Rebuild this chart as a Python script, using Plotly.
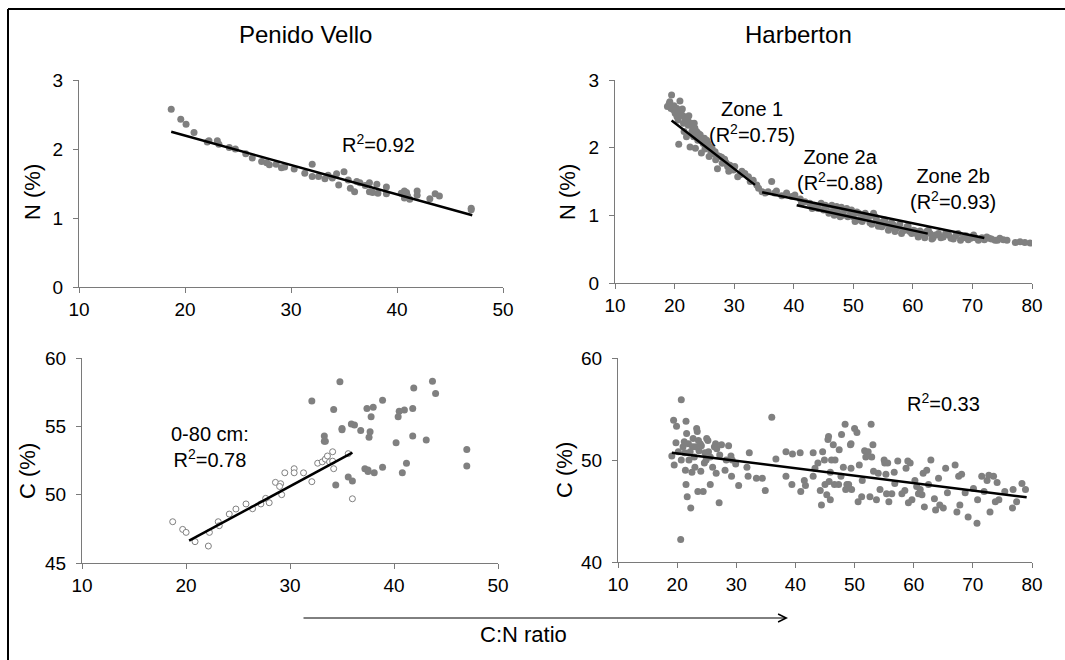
import plotly.graph_objects as go

W, H = 1065, 660

# ---------------- DATA ----------------
# Penido Vello: N (%) vs C:N ratio
pv_n_cn = [18.7, 19.6, 20.1, 20.85, 22.26, 22.1, 23.05, 23.2, 24.18, 24.75, 25.73, 26.35, 27.23, 27.7,
           27.96, 28.6, 29.1, 29.4, 30.3, 31.3, 32.0, 32.0, 32.6, 33.2, 33.5, 33.9, 34.3, 34.5, 35.0,
           35.4, 35.6, 36.0, 36.2, 36.5, 37.0, 37.4, 37.4, 37.7, 38.1, 38.2, 39.0, 39.0, 40.4, 40.7,
           40.7, 41.0, 40.9, 41.2, 41.9, 41.9, 43.1, 43.6, 44.0, 47.0, 47.0]
pv_n = [2.575, 2.43, 2.36, 2.24, 2.12, 2.10, 2.12, 2.07, 2.02, 2.00, 1.93, 1.87, 1.82, 1.80,
        1.77, 1.78, 1.73, 1.74, 1.71, 1.65, 1.78, 1.60, 1.60, 1.57, 1.62, 1.58, 1.64, 1.48, 1.67,
        1.55, 1.43, 1.38, 1.53, 1.51, 1.47, 1.51, 1.38, 1.37, 1.49, 1.36, 1.45, 1.35, 1.36, 1.39,
        1.29, 1.32, 1.37, 1.27, 1.39, 1.33, 1.28, 1.35, 1.32, 1.14, 1.12]
pv_n_fit_cn = [18.7, 47.1]
pv_n_fit = [2.25, 1.04]

# Penido Vello: C (%) vs C:N ratio, 0-80 cm (open) and deeper (filled)
pv_c_top_cn = [18.72, 19.68, 20.01, 20.87, 22.15, 22.25, 23.1, 23.2, 24.16, 24.8, 25.77, 26.4, 27.2,
               27.66, 28.0, 28.6, 29.1, 29.2, 29.0, 29.5, 30.4, 30.4, 31.3, 32.1, 32.66, 33.1, 33.4,
               33.6, 33.8, 34.1, 34.1, 34.2, 35.6, 36.0]
pv_c_top = [48.02, 47.46, 47.24, 46.56, 46.24, 47.24, 48.02, 47.73, 48.58, 48.95, 49.32, 48.97, 49.32,
            49.73, 49.41, 50.9, 50.8, 50.0, 50.6, 51.6, 51.9, 51.6, 51.6, 50.95, 52.3, 52.4, 52.6,
            52.83, 52.4, 53.14, 52.45, 51.9, 53.0, 49.7]
pv_c_deep_cn = [32.1, 33.3, 33.3, 33.4, 34.2, 34.4, 34.8, 35.0, 35.0, 35.6, 35.9, 36.0, 36.2, 36.8,
                37.4, 37.2, 37.5, 37.5, 37.6, 37.7, 37.8, 38.0, 38.1, 38.9, 38.9, 40.2, 40.4, 40.5,
                40.8, 41.0, 41.2, 41.8, 41.8, 41.9, 43.1, 43.7, 44.0, 47.0, 47.0]
pv_c_deep = [56.85, 54.3, 53.9, 53.9, 56.24, 50.7, 58.26, 54.85, 54.75, 51.3, 55.17, 51.0, 55.1, 54.7,
             56.3, 51.9, 51.8, 51.7, 54.2, 54.6, 55.7, 56.4, 51.6, 56.9, 52.0, 53.8, 55.7, 56.1,
             51.6, 56.2, 52.3, 54.3, 56.3, 57.8, 54.0, 58.3, 57.4, 53.3, 52.1]
pv_c_fit_cn = [20.3, 36.0]
pv_c_fit = [46.63, 53.07]

# Harberton: N (%) vs C:N ratio
hb_n_cn = [19.5, 19.1, 19.4, 19.8, 20.1, 20.4, 20.9, 20.6, 20.7, 21.2, 21.5, 21.6, 21.8, 22.0, 22.3,
           22.6, 22.9, 23.2, 23.4, 23.5, 23.9, 24.0, 24.5, 24.8, 25.1, 25.4, 25.8, 26.1, 26.5, 26.9,
           27.2, 27.6, 28.0, 28.5, 28.9, 29.1, 29.9, 30.6, 31.0, 32.4, 32.7, 33.8, 34.7, 35.2, 36.3,
           37.1, 38.0, 38.8, 39.7, 40.2, 41.1, 41.9, 42.7, 43.5, 44.1, 44.6, 45.0, 45.5, 46.1, 46.4,
           46.9, 47.5, 48.0, 48.5, 48.9, 49.5, 50.0, 50.6, 51.1, 51.7, 52.2, 52.8, 53.4, 53.9, 54.5,
           55.0, 55.6, 56.2, 56.7, 57.3, 57.8, 58.4, 59.0, 59.5, 60.1, 60.6, 61.2, 61.8, 62.3, 62.9,
           63.4, 64.3, 65.1, 66.0, 66.8, 67.6, 68.5, 69.3, 70.2, 71.0, 71.6, 72.4, 73.2, 73.8, 74.6,
           75.8, 77.2, 78.0, 78.8, 79.7,
           41.3, 43.1, 45.3, 45.9, 46.8, 47.2, 47.8, 48.3, 49.1, 49.7, 50.3, 50.9, 51.5, 52.0, 52.6,
           53.1, 53.7, 54.2, 54.8, 55.3, 55.9, 56.4, 57.0, 57.6, 58.1, 58.7, 59.2, 59.8, 60.4, 60.9,
           61.5, 62.0, 62.6, 63.2, 63.8, 64.7, 65.5, 66.4, 67.2, 68.0, 68.9, 69.7, 70.5, 72.0, 72.8,
           74.2, 75.2,
           18.8, 19.2, 19.9, 20.4, 21.1, 21.3, 21.6, 22.2, 22.4, 22.8, 23.0, 23.3, 23.7, 24.3, 24.4,
           25.0, 25.6, 26.0, 26.3, 26.8, 27.3, 27.9, 28.4, 28.7, 29.3, 30.1, 31.3, 31.8, 33.2, 34.1,
           35.7, 36.8]
hb_n = [2.78, 2.65, 2.58, 2.56, 2.51, 2.46, 2.69, 2.41, 2.05, 2.48, 2.36, 2.24, 2.43, 2.16, 2.33,
        2.01, 2.24, 2.16, 2.29, 1.99, 2.11, 2.21, 1.92, 2.06, 1.98, 2.11, 1.87, 1.94, 1.91, 1.82,
        1.69, 1.87, 1.77, 1.79, 1.72, 1.65, 1.67, 1.57, 1.60, 1.57, 1.50, 1.45, 1.35, 1.33, 1.50,
        1.36, 1.29, 1.33, 1.28, 1.30, 1.24, 1.20, 1.18, 1.15, 1.10, 1.18, 1.08, 1.13, 1.05, 1.15,
        1.09, 1.03, 1.12, 1.08, 1.10, 1.02, 0.98, 1.05, 0.93, 1.00, 0.96, 0.89, 1.03, 0.93, 0.88,
        0.91, 0.87, 0.82, 0.86, 0.81, 0.87, 0.78, 0.83, 0.76, 0.78, 0.73, 0.77, 0.71, 0.76, 0.73,
        0.67, 0.73, 0.68, 0.71, 0.65, 0.73, 0.67, 0.64, 0.71, 0.63, 0.67, 0.68, 0.65, 0.63, 0.66,
        0.63, 0.60, 0.61, 0.60, 0.59,
        1.18, 1.10, 1.15, 1.03, 1.00, 1.13, 0.98, 1.00, 0.98, 1.08, 0.91, 1.03, 0.91, 1.03, 0.98,
        0.87, 0.98, 0.84, 0.83, 0.93, 0.78, 0.89, 0.76, 0.83, 0.73, 0.78, 0.84, 0.73, 0.77, 0.68,
        0.73, 0.67, 0.78, 0.65, 0.71, 0.67, 0.73, 0.66, 0.70, 0.63, 0.70, 0.66, 0.67, 0.64, 0.66,
        0.63, 0.64,
        2.61, 2.68, 2.62, 2.58, 2.53, 2.57, 2.46, 2.41, 2.47, 2.36, 2.31, 2.36, 2.24, 2.19, 2.11,
        2.14, 2.06, 2.01, 1.99, 1.94, 1.88, 1.86, 1.83, 1.77, 1.74, 1.72, 1.65, 1.62, 1.52, 1.40,
        1.35, 1.33]
hb_zone1_cn = [19.5, 33.5]
hb_zone1 = [2.40, 1.45]
hb_zone2b_cn = [34.7, 72.0]
hb_zone2b = [1.34, 0.665]
hb_zone2a_cn = [40.5, 62.5]
hb_zone2a = [1.15, 0.73]

# Harberton: C (%) vs C:N ratio
hb_c_cn = [19.1, 19.4, 19.9, 19.5, 19.8, 20.2, 20.7, 20.6, 20.7, 21.0, 21.2, 21.3, 21.4, 21.5, 21.6,
           21.5, 21.7, 21.9, 22.0, 22.2, 22.3, 22.5, 22.6, 22.7, 22.9, 23.0, 23.1, 23.3, 23.4, 23.5,
           23.6, 23.7, 23.9, 24.0, 24.1, 24.4, 24.6, 24.7, 24.9, 25.0, 25.2, 25.3, 25.6, 25.6, 26.0,
           26.3, 26.5, 26.6, 26.7, 27.1, 27.2, 27.5, 28.1, 28.3, 28.7, 29.1, 29.2, 29.3, 29.9, 30.4,
           31.8, 32.2, 32.0, 33.4, 34.4, 34.9, 36.0, 36.7, 38.4, 38.4, 39.4, 39.5, 40.8, 40.9, 41.5,
           41.7, 43.0, 43.0, 43.3, 43.8, 44.2, 44.4, 44.6, 44.9, 45.0, 45.3, 45.5, 45.6, 45.7, 45.9,
           45.9, 46.1, 46.4, 46.6, 46.7, 47.3, 47.4, 47.7, 47.8, 48.1, 48.4, 48.5, 48.7, 49.0, 49.3,
           49.4, 49.4, 49.5, 50.0, 50.4, 50.6, 50.8, 51.2, 51.3, 51.7, 51.9, 52.3, 52.6, 52.8, 52.9,
           53.1, 53.2, 53.7, 54.0, 54.3, 55.0, 55.1, 55.3, 55.4, 55.6, 55.8, 56.3, 56.7, 56.8, 57.3,
           58.0, 58.5, 58.7, 59.0, 59.1, 59.4, 59.7, 60.2, 60.5, 60.8, 61.1, 61.4, 61.6, 61.8, 62.2,
           62.5, 62.9, 63.5, 63.7, 64.2, 64.4, 65.0, 65.4, 65.7, 67.0, 67.3, 67.6, 67.8, 68.1, 68.7,
           69.2, 70.1, 70.7, 70.8, 71.5, 71.9, 72.4, 72.7, 72.9, 73.5, 73.8, 74.1, 74.4, 75.4, 76.7,
           76.8, 77.4, 78.3, 78.9]
hb_c = [50.4, 53.9, 53.3, 49.5, 51.7, 50.8, 55.9, 42.2, 50.0, 51.3, 51.8, 50.7, 49.0, 53.8, 52.6,
        47.6, 46.4, 51.6, 50.0, 50.8, 45.3, 48.8, 51.3, 52.1, 50.3, 49.3, 51.3, 53.1, 52.8, 46.9,
        51.9, 50.9, 51.6, 48.9, 51.4, 46.9, 49.7, 50.7, 50.0, 52.1, 51.9, 50.8, 47.6, 50.3, 49.3,
        51.3, 51.6, 48.7, 51.1, 45.8, 50.5, 51.5, 49.0, 50.0, 51.4, 50.4, 48.4, 50.0, 49.6, 47.5,
        49.3, 50.7, 48.4, 48.2, 48.2, 47.0, 54.2, 50.1, 50.8, 48.4, 47.6, 50.6, 50.7, 46.9, 48.0,
        47.5, 50.7, 48.4, 49.2, 49.7, 47.0, 45.6, 50.8, 50.0, 47.6, 46.6, 52.0, 52.3, 47.9, 48.8,
        46.1, 50.0, 51.5, 47.6, 50.0, 47.6, 51.0, 48.4, 52.5, 49.3, 53.5, 47.1, 47.6, 47.6, 51.5,
        51.6, 49.2, 47.1, 53.1, 52.7, 45.9, 49.5, 46.4, 48.0, 50.9, 50.3, 50.8, 46.4, 53.5, 50.3,
        51.5, 48.9, 46.1, 48.7, 47.1, 50.0, 49.7, 48.6, 46.7, 49.7, 45.9, 46.7, 48.8, 47.7, 49.9,
        46.7, 47.0, 49.2, 49.9, 45.8, 49.7, 46.1, 48.0, 47.4, 46.7, 47.1, 46.6, 48.7, 45.4, 49.0,
        47.6, 50.0, 46.2, 45.1, 48.2, 45.6, 45.3, 49.2, 46.8, 49.5, 44.9, 48.4, 45.6, 48.6, 46.8,
        44.4, 47.2, 43.8, 46.1, 48.4, 46.9, 48.0, 48.5, 44.9, 48.4, 45.9, 47.8, 46.1, 46.9, 45.3,
        47.1, 45.9, 47.7, 47.1]
hb_c_fit_cn = [19.1, 79.1]
hb_c_fit = [50.72, 46.35]

# ---------------- LAYOUT HELPERS ----------------
def fx(p):
    return p / W

def fy(p):
    return 1 - p / H

GREY = "#808080"
AXIS = "#7a7a7a"
FONT = "Liberation Sans, Arial, sans-serif"

fig = go.Figure()

def scatter(x, y, xa, ya, open_=False):
    if open_:
        m = dict(size=6, color="white", line=dict(color=GREY, width=1))
    else:
        m = dict(size=7, color=GREY, line=dict(width=0))
    fig.add_trace(go.Scatter(x=x, y=y, mode="markers", marker=m, xaxis=xa, yaxis=ya,
                             showlegend=False, hoverinfo="skip"))

def fit(x, y, xa, ya):
    fig.add_trace(go.Scatter(x=x, y=y, mode="lines", line=dict(color="black", width=2.5),
                             xaxis=xa, yaxis=ya, showlegend=False, hoverinfo="skip"))

# panel 1: Penido Vello N
scatter(pv_n_cn, pv_n, "x", "y")
fit(pv_n_fit_cn, pv_n_fit, "x", "y")
# panel 2: Harberton N
scatter(hb_n_cn, hb_n, "x2", "y2")
fit(hb_zone1_cn, hb_zone1, "x2", "y2")
fit(hb_zone2b_cn, hb_zone2b, "x2", "y2")
fit(hb_zone2a_cn, hb_zone2a, "x2", "y2")
# panel 3: Penido Vello C
scatter(pv_c_deep_cn, pv_c_deep, "x3", "y3")
scatter(pv_c_top_cn, pv_c_top, "x3", "y3", open_=True)
fit(pv_c_fit_cn, pv_c_fit, "x3", "y3")
# panel 4: Harberton C
scatter(hb_c_cn, hb_c, "x4", "y4")
fit(hb_c_fit_cn, hb_c_fit, "x4", "y4")

def xaxis(x0, x1, rng, dt, anchor):
    return dict(domain=[fx(x0), fx(x1)], range=rng, dtick=dt, tick0=10, anchor=anchor,
                showline=True, linecolor=AXIS, linewidth=1, ticks="outside", ticklen=5,
                tickcolor=AXIS, showgrid=False, zeroline=False, automargin=False,
                tickfont=dict(family=FONT, size=19, color="black"))

def yaxis(y0, y1, rng, dt, anchor):
    return dict(domain=[fy(y1), fy(y0)], range=rng, dtick=dt, tick0=0, anchor=anchor,
                showline=True, linecolor=AXIS, linewidth=1, ticks="outside", ticklen=5,
                tickcolor=AXIS, showgrid=False, zeroline=False, automargin=False,
                ticklabelstandoff=6,
                tickfont=dict(family=FONT, size=19, color="black"))

fig.update_layout(
    template="none",
    width=W, height=H, autosize=False,
    margin=dict(l=0, r=0, t=0, b=0),
    paper_bgcolor="white", plot_bgcolor="rgba(0,0,0,0)",
    showlegend=False,
    font=dict(family=FONT, color="black"),
    xaxis=xaxis(79, 503, [10, 50], 10, "y"),
    yaxis=yaxis(80, 287, [0, 3], 1, "x"),
    xaxis2=xaxis(615, 1032, [10, 80], 10, "y2"),
    yaxis2=yaxis(80, 283, [0, 3], 1, "x2"),
    xaxis3=xaxis(82, 498, [10, 50], 10, "y3"),
    yaxis3=yaxis(358, 563, [45, 60], 5, "x3"),
    xaxis4=xaxis(618, 1032, [10, 80], 10, "y4"),
    yaxis4=yaxis(358, 562, [40, 60], 10, "x4"),
)

def note(x, y, text, size=20, angle=0):
    fig.add_annotation(x=fx(x), y=fy(y), xref="paper", yref="paper", text=text, showarrow=False,
                       textangle=angle, xanchor="center", yanchor="middle",
                       font=dict(family=FONT, size=size, color="black"))

note(305, 35, "Penido Vello", 24)
note(798, 35, "Harberton", 24)
note(32, 192, "N (%)", 22, -90)
note(567, 192, "N (%)", 22, -90)
note(27, 471, "C (%)", 22, -90)
note(564, 470, "C (%)", 22, -90)
note(378, 143, "R<sup>2</sup>=0.92")
note(752, 122, "Zone 1<br>(R<sup>2</sup>=0.75)")
note(840, 170, "Zone 2a<br>(R<sup>2</sup>=0.88)")
note(953, 189, "Zone 2b<br>(R<sup>2</sup>=0.93)")
note(210, 447, "0-80 cm:<br>R<sup>2</sup>=0.78")
note(943, 402, "R<sup>2</sup>=0.33")
note(523, 634, "C:N ratio", 22)

# arrow under the bottom panels
fig.add_annotation(x=fx(788), y=fy(618), xref="paper", yref="paper", ax=-(788 - 302), ay=0,
                   axref="pixel", ayref="pixel", text="", showarrow=True,
                   arrowhead=5, arrowsize=1.6, arrowwidth=1, arrowcolor="black")

# outer frame (left and top edges visible)
fig.add_shape(type="line", xref="paper", yref="paper", x0=fx(8), y0=fy(9), x1=fx(8), y1=fy(H + 5),
              line=dict(color="black", width=2))
fig.add_shape(type="line", xref="paper", yref="paper", x0=fx(8), y0=fy(9), x1=fx(W + 5), y1=fy(9),
              line=dict(color="black", width=2))

fig.write_html("out.html")
